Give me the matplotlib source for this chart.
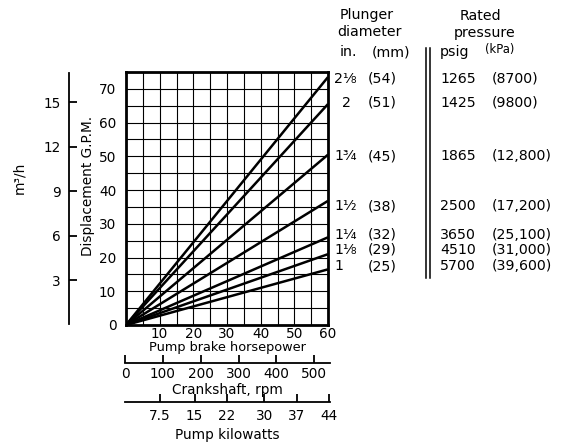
import matplotlib
matplotlib.use('Agg')
import matplotlib.pyplot as plt
import numpy as np
from matplotlib.lines import Line2D

# ---------------- data ----------------
plunger_in = ['2¹⁄₈', '2', '1³⁄₄', '1¹⁄₂', '1¹⁄₄', '1¹⁄₈', '1']
plunger_mm = ['(54)', '(51)', '(45)', '(38)', '(32)', '(29)', '(25)']
psig = ['1265', '1425', '1865', '2500', '3650', '4510', '5700']
kpa = ['(8700)', '(9800)', '(12,800)', '(17,200)', '(25,100)', '(31,000)', '(39,600)']
gpm_at_60hp = [73.5, 65.5, 50.5, 36.8, 26.0, 21.0, 16.5]
hp_range = [0, 60]
hp_ticks = [10, 20, 30, 40, 50, 60]
gpm_ticks = [0, 10, 20, 30, 40, 50, 60, 70]
m3h_ticks = [3, 6, 9, 12, 15]
rpm_ticks = [0, 100, 200, 300, 400, 500]
kw_ticks = [7.5, 15, 22, 30, 37, 44]
kw_labels = ['7.5', '15', '22', '30', '37', '44']

# ---------------- layout ----------------
W, H = 579, 442
fig = plt.figure(figsize=(W / 100, H / 100), dpi=100)
plt.rcParams['font.family'] = ['DejaVu Sans']
FS = 9.8
TFS = 10.2


def fx(x):
    return x / W


def fy(y):
    return 1 - y / H


def box(x0, y0, x1, y1):
    return [fx(x0), fy(y1), (x1 - x0) / W, (y1 - y0) / H]


L, R, T, B = 126, 328, 72, 325
ax = fig.add_axes(box(L, T, R, B))
ax.set_xlim(0, 60)
ax.set_ylim(0, 75)
ax.set_xticks(np.arange(0, 61, 5), minor=True)
ax.set_yticks(np.arange(0, 76, 5), minor=True)
ax.set_xticks(hp_ticks)
ax.set_yticks(gpm_ticks)
ax.grid(True, which='both', color='black', lw=0.8)
ax.tick_params(which='both', length=0, labelsize=FS)
ax.tick_params(axis='y', pad=7)
ax.tick_params(axis='x', pad=1.5)
for s in ax.spines.values():
    s.set_linewidth(2)
ax.set_xlabel('Pump brake horsepower', fontsize=9.3, labelpad=0.3)
ax.set_ylabel('Displacement G.P.M.', fontsize=FS, labelpad=2)
ax.yaxis.set_label_coords(-0.155, 0.55)

for g in gpm_at_60hp:
    ax.plot(hp_range, [0, g], color='black', lw=1.8, solid_capstyle='butt')

# m3/h axis
gpm_to_m3h = 0.22712
axm = fig.add_axes(box(69, T, 70, B))
axm.set_ylim(0, 75 * gpm_to_m3h)
axm.set_xticks([])
axm.set_yticks(m3h_ticks)
for k in ['top', 'right', 'bottom']:
    axm.spines[k].set_visible(False)
axm.spines['left'].set_linewidth(1.3)
axm.spines['left'].set_bounds(0.1, 74.7 * gpm_to_m3h)
axm.patch.set_visible(False)
axm.tick_params(axis='y', direction='in', length=6, width=1.3, pad=6, labelsize=FS)
fig.text(fx(19), fy(178), 'm³/h', rotation=90, fontsize=FS, ha='center', va='center')

# rpm axis
axr = fig.add_axes(box(L - 1, 355, 330, 363))
axr.set_xlim(-0.5, 542)
axr.set_yticks([])
axr.set_xticks(rpm_ticks)
for k in ['top', 'right', 'left']:
    axr.spines[k].set_visible(False)
axr.spines['bottom'].set_linewidth(1.3)
axr.patch.set_visible(False)
axr.tick_params(axis='x', direction='in', length=6, width=1.3, pad=3, labelsize=FS)
axr.set_xlabel('Crankshaft, rpm', fontsize=FS, labelpad=1.5)

# kW axis
axk = fig.add_axes(box(L - 1, 394, 330, 402))
axk.set_xlim(0, 44.2)
axk.set_yticks([])
axk.set_xticks(kw_ticks)
axk.set_xticklabels(kw_labels)
for k in ['top', 'right', 'left']:
    axk.spines[k].set_visible(False)
axk.spines['bottom'].set_linewidth(1.3)
axk.patch.set_visible(False)
axk.tick_params(axis='x', direction='in', length=6, width=1.3, pad=5, labelsize=FS)
axk.set_xlabel('Pump kilowatts', fontsize=FS, labelpad=4)

# ---------------- table ----------------
row_y = [79, 103, 156, 206, 235, 250, 266]
col_in, col_mm, col_psig, col_kpa = 334, 368, 440, 492
for i, y in enumerate(row_y):
    yb = fy(y + 4)
    xin = col_in + (8 if plunger_in[i] == '2' else 0)
    fig.text(fx(xin), yb, plunger_in[i], fontsize=TFS, ha='left', va='baseline')
    fig.text(fx(col_mm), yb, plunger_mm[i], fontsize=TFS, ha='left', va='baseline')
    fig.text(fx(col_psig), yb, psig[i], fontsize=TFS, ha='left', va='baseline')
    fig.text(fx(col_kpa), yb, kpa[i], fontsize=TFS, ha='left', va='baseline')

fig.text(fx(367), fy(15), 'Plunger', fontsize=TFS, ha='center', va='center')
fig.text(fx(370), fy(32), 'diameter', fontsize=TFS, ha='center', va='center')
fig.text(fx(340), fy(56), 'in.', fontsize=TFS, ha='left', va='baseline')
fig.text(fx(372), fy(56), '(mm)', fontsize=TFS, ha='left', va='baseline')
fig.text(fx(480), fy(16), 'Rated', fontsize=TFS, ha='center', va='center')
fig.text(fx(485), fy(33), 'pressure', fontsize=TFS, ha='center', va='center')
fig.text(fx(440), fy(56), 'psig', fontsize=TFS, ha='left', va='baseline')
fig.text(fx(485), fy(53), '(kPa)', fontsize=TFS - 1.8, ha='left', va='baseline')

for xv in (426, 430):
    fig.add_artist(Line2D([fx(xv), fx(xv)], [fy(48), fy(278)], color='black', lw=1.1))

fig.savefig('out.png', dpi=100)
